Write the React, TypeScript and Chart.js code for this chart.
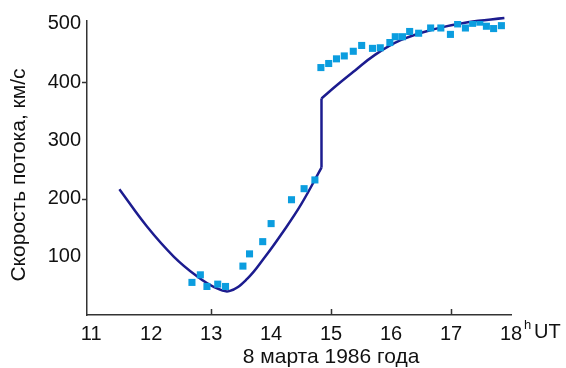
import { useEffect, useRef } from "react";
import { Chart, registerables } from "chart.js";

Chart.register(...registerables);

// Axis ticks
const hourTicks = [11, 12, 13, 14, 15, 16, 17, 18];
const speedTicks = [100, 200, 300, 400, 500];
const markedHours = [13, 15, 17];
const markedSpeeds = [200, 400];

// Observed flow speed (hours UT, km/s)
const obsHours = [
  12.68, 12.82, 12.93, 13.11, 13.24, 13.53, 13.64, 13.86, 14.0, 14.34, 14.55, 14.73,
  14.83, 14.96, 15.09, 15.22, 15.37, 15.51, 15.69, 15.82, 15.98, 16.07, 16.19, 16.31,
  16.46, 16.66, 16.83, 16.99, 17.11, 17.24, 17.36, 17.48, 17.59, 17.71, 17.84,
];
const obsSpeeds = [
  56, 69, 49, 53, 49, 84, 105, 126, 157, 198, 217, 232,
  425, 432, 440, 445, 453, 463, 458, 459, 468, 478, 478, 487,
  484, 493, 493, 482, 500, 493, 501, 503, 496, 492, 497,
];

// Model curve before the shock
const modelBeforeHours = [11.47, 11.93, 12.38, 12.77, 13.05, 13.3, 13.6, 13.9, 14.2, 14.5, 14.84];
const modelBeforeSpeeds = [216, 152, 100, 66, 48, 41, 62, 100, 143, 190, 253];

// Jump at the shock front
const jumpHours = [14.84, 14.84];
const jumpSpeeds = [253, 372];

// Model curve after the shock
const modelAfterHours = [14.84, 15.1, 15.4, 15.72, 16.16, 16.72, 17.28, 17.89];
const modelAfterSpeeds = [372, 395, 420, 446, 472, 491, 503, 510];

const pts = (xs: number[], ys: number[]) => xs.map((x, i) => ({ x, y: ys[i] }));

const FONT = "'Liberation Sans', Arial, Helvetica, sans-serif";
const LINE_COLOR = "#1c1c8f";
const POINT_COLOR = "#0b9ddf";
const AXIS_COLOR = "#333333";

const decorations = {
  id: "decorations",
  afterDraw(chart: any) {
    const { ctx, chartArea } = chart;
    const xs = chart.scales.x;
    const ys = chart.scales.y;
    ctx.save();
    ctx.strokeStyle = AXIS_COLOR;
    ctx.lineWidth = 1.5;
    ctx.beginPath();
    for (const h of markedHours) {
      const px = Math.round(xs.getPixelForValue(h)) + 0.5;
      ctx.moveTo(px, chartArea.bottom);
      ctx.lineTo(px, chartArea.bottom - 6);
    }
    for (const v of markedSpeeds) {
      const py = Math.round(ys.getPixelForValue(v)) + 0.5;
      ctx.moveTo(chartArea.left, py);
      ctx.lineTo(chartArea.left - 5, py);
    }
    ctx.stroke();

    ctx.fillStyle = "#111";
    // unit after the last hour label
    const x18 = xs.getPixelForValue(18);
    ctx.font = `13px ${FONT}`;
    ctx.textAlign = "left";
    ctx.textBaseline = "alphabetic";
    ctx.fillText("h", x18 + 13, 329);
    ctx.font = `20px ${FONT}`;
    ctx.fillText("UT", x18 + 23, 338);

    // x axis title
    ctx.font = `21px ${FONT}`;
    ctx.textAlign = "center";
    ctx.fillText("8 марта 1986 года", xs.getPixelForValue(15.0), 363);

    // y axis title
    ctx.translate(19, 175);
    ctx.rotate(-Math.PI / 2);
    ctx.textBaseline = "middle";
    ctx.fillText("Скорость потока, км/с", 0, 0);
    ctx.restore();
  },
};

export default function App() {
  const ref = useRef<HTMLCanvasElement>(null);

  useEffect(() => {
    if (!ref.current) return;
    const lineBase = {
      type: "line" as const,
      showLine: true,
      pointRadius: 0,
      borderColor: LINE_COLOR,
      borderWidth: 2.5,
      fill: false,
      clip: false as any,
    };
    const chart = new Chart(ref.current, {
      type: "scatter",
      data: {
        datasets: [
          {
            data: pts(obsHours, obsSpeeds),
            pointStyle: "rect",
            pointRadius: 5,
            pointBorderWidth: 0,
            backgroundColor: POINT_COLOR,
            borderColor: POINT_COLOR,
          },
          { ...lineBase, data: pts(modelBeforeHours, modelBeforeSpeeds), tension: 0.4 },
          { ...lineBase, data: pts(jumpHours, jumpSpeeds), tension: 0 },
          { ...lineBase, data: pts(modelAfterHours, modelAfterSpeeds), tension: 0.4 },
        ] as any,
      },
      plugins: [decorations],
      options: {
        responsive: false,
        animation: false,
        layout: { padding: { left: 0, right: 55, top: 21, bottom: 0 } },
        plugins: { legend: { display: false }, tooltip: { enabled: false } },
        scales: {
          x: {
            type: "linear",
            min: 10.93,
            max: 18,
            afterBuildTicks: (s: any) => {
              s.ticks = hourTicks.map((value) => ({ value }));
            },
            afterFit: (s: any) => {
              s.height = 53;
            },
            grid: { display: false, drawTicks: false },
            border: { display: true, color: AXIS_COLOR, width: 1.5 },
            ticks: {
              color: "#111",
              padding: 7,
              maxRotation: 0,
              autoSkip: false,
              font: { family: FONT, size: 20 },
              callback: (v: any) => String(v),
            },
          },
          y: {
            type: "linear",
            min: 0,
            max: 505,
            afterBuildTicks: (s: any) => {
              s.ticks = speedTicks.map((value) => ({ value }));
            },
            afterFit: (s: any) => {
              s.width = 87;
            },
            grid: { display: false, drawTicks: false },
            border: { display: true, color: AXIS_COLOR, width: 1.5 },
            ticks: {
              color: "#111",
              padding: 6,
              font: { family: FONT, size: 20 },
              callback: (v: any) => String(v),
            },
          },
        },
      },
    });
    return () => chart.destroy();
  }, []);

  return (
    <div style={{ position: "fixed", left: 0, top: 0, width: 566, height: 368, background: "#fff" }}>
      <canvas ref={ref} width={566} height={368} style={{ display: "block" }} />
    </div>
  );
}
